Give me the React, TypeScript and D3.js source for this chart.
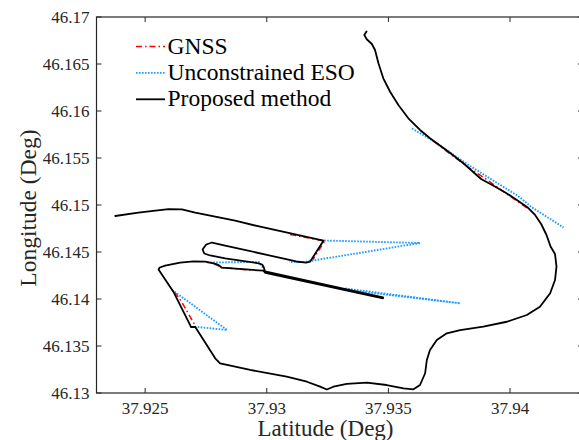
import React from "react";
import * as d3 from "d3";

// ---------- data (lat, lon) ----------
const proposedLat = [
  37.92377, 37.92472, 37.92596, 37.92651, 37.92706, 37.9287, 37.92973, 37.93233, 37.93178, 37.93162,
  37.93121, 37.92829, 37.92775, 37.92751, 37.92736, 37.92743, 37.92767, 37.92829, 37.92966, 37.92981,
  37.92987, 37.92993, 37.93478, 37.93478, 37.92994, 37.92986, 37.92815, 37.92808, 37.92801, 37.92781,
  37.92747, 37.92699, 37.92644, 37.92582, 37.9256, 37.92555, 37.92616, 37.92685, 37.92688, 37.92706,
  37.92788, 37.92808, 37.92932, 37.93082, 37.93165, 37.93219, 37.93247, 37.93274, 37.93329, 37.93411,
  37.93493, 37.93562, 37.93603, 37.9363, 37.93651, 37.93658, 37.93671, 37.93699, 37.9374, 37.93795,
  37.9389, 37.93987, 37.94069, 37.94123, 37.94165, 37.94185, 37.94191, 37.94185, 37.94167, 37.9415,
  37.94128, 37.94103, 37.9407, 37.94025, 37.93984, 37.93934, 37.93881, 37.93844, 37.93807, 37.93754,
  37.93712, 37.93671, 37.9363, 37.93582, 37.93541, 37.93507, 37.93479, 37.93459, 37.93445, 37.93432,
  37.93411, 37.93401, 37.9341,
];
const proposedLon = [
  46.14883, 46.14918, 46.14957, 46.14954, 46.14918, 46.14833, 46.14769, 46.1462, 46.14397, 46.14388,
  46.14399, 46.14569, 46.14601, 46.1458, 46.14527, 46.14484, 46.14463, 46.14433, 46.1438, 46.14367,
  46.1434, 46.14293, 46.14018, 46.14007, 46.14278, 46.14301, 46.14333, 46.14348, 46.14362, 46.1438,
  46.14397, 46.14401, 46.14386, 46.14356, 46.14335, 46.14314, 46.14078, 46.13723, 46.13702, 46.13702,
  46.13369, 46.13316, 46.13245, 46.13173, 46.1312, 46.13067, 46.13037, 46.13067, 46.13096, 46.1311,
  46.13085, 46.1305, 46.13039, 46.13085, 46.1321, 46.13351, 46.13457, 46.13564, 46.13635, 46.1367,
  46.13705, 46.13758, 46.1383, 46.13918, 46.14061, 46.14202, 46.14344, 46.14479, 46.14556, 46.14681,
  46.14798, 46.14894, 46.14979, 46.15058, 46.15128, 46.15202, 46.15277, 46.15362, 46.15447, 46.15553,
  46.15633, 46.1571, 46.15798, 46.15922, 46.16064, 46.16205, 46.16348, 46.16507, 46.16649, 46.16713,
  46.16763, 46.16808, 46.16846,
];

// GNSS visible segments
const gnssLat = [
  [37.93688, 37.93762, 37.93836, 37.9391, 37.93984, 37.9407],
  [37.93096, 37.93238, 37.9319],
  [37.92784, 37.92817, 37.92932],
  [37.92621, 37.92648, 37.92708],
];
const gnssLon = [
  [46.15675, 46.15526, 46.15388, 46.15261, 46.15122, 46.14968],
  [46.14686, 46.14617, 46.1442],
  [46.14372, 46.14335, 46.14306],
  [46.14074, 46.13979, 46.13707],
];

// Unconstrained ESO visible segments
const esoLat = [
  [37.93597, 37.93671, 37.93754, 37.93836, 37.93947, 37.94033, 37.94091, 37.9422],
  [37.93236, 37.9363, 37.93154, 37.93092],
  [37.93322, 37.93795, 37.93322],
  [37.92755, 37.92967, 37.92985],
  [37.92611, 37.92837, 37.92706],
];
const esoLon = [
  [46.15814, 46.15702, 46.15558, 46.15415, 46.15234, 46.15096, 46.14973, 46.14761],
  [46.14622, 46.14596, 46.14394, 46.14394],
  [46.14112, 46.13954, 46.14098],
  [46.14388, 46.14394, 46.1433],
  [46.14096, 46.1367, 46.13705],
];

const xTicks = [37.925, 37.93, 37.935, 37.94];
const yTicks = [46.13, 46.135, 46.14, 46.145, 46.15, 46.155, 46.16, 46.165, 46.17];
const xDomain = [37.923, 37.943];
const yDomain = [46.13, 46.17];

const legendLabels = ["GNSS", "Unconstrained ESO", "Proposed method"];

const W = 579;
const H = 440;
const L = 96.5;
const R = 583;
const T = 17;
const B = 393;
const FONT = "'Liberation Serif', 'Times New Roman', serif";
const AX = "#262626";
const RED = "#ff0000";
const BLUE = "#1e9bff";

export default function App() {
  const x = d3.scaleLinear().domain(xDomain).range([L, R]);
  const y = d3.scaleLinear().domain(yDomain).range([B, T]);
  const line = d3
    .line<[number, number]>()
    .x((d) => x(d[0]))
    .y((d) => y(d[1]));

  const zip = (a: number[], b: number[]) => a.map((v, i) => [v, b[i]] as [number, number]);

  const fmt = (v: number) => String(+v.toFixed(3));
  const tick = 5;

  const legendStyles = [
    { stroke: RED, dash: "6 3 1.5 3", width: 1.4 },
    { stroke: BLUE, dash: "1.6 1.4", width: 1.8 },
    { stroke: "#000", dash: undefined, width: 1.8 },
  ];

  return (
    <svg
      width={W}
      height={H}
      style={{ position: "absolute", left: 0, top: 0, background: "#fff" }}
      fontFamily={FONT}
    >
      <rect x={0} y={0} width={W} height={H} fill="#fff" />
      <defs>
        <clipPath id="plotclip">
          <rect x={L} y={T} width={R - L} height={B - T} />
        </clipPath>
      </defs>
      <g clipPath="url(#plotclip)">
        {gnssLat.map((seg, i) => (
          <path
            key={"g" + i}
            d={line(zip(seg, gnssLon[i])) || ""}
            fill="none"
            stroke={RED}
            strokeWidth={1.5}
            strokeDasharray="6 3 1.5 3"
          />
        ))}
        {esoLat.map((seg, i) => (
          <path
            key={"e" + i}
            d={line(zip(seg, esoLon[i])) || ""}
            fill="none"
            stroke={BLUE}
            strokeWidth={1.9}
            strokeDasharray="1.6 1.4"
          />
        ))}
        <path
          d={line(zip(proposedLat, proposedLon)) || ""}
          fill="none"
          stroke="#000"
          strokeWidth={1.8}
          strokeLinejoin="round"
          strokeLinecap="round"
        />
      </g>

      {/* axes box */}
      <rect x={L} y={T} width={R - L} height={B - T} fill="none" stroke={AX} strokeWidth={1.2} />
      {xTicks.map((t) => (
        <g key={"xt" + t}>
          <line x1={x(t)} x2={x(t)} y1={B} y2={B - tick} stroke={AX} strokeWidth={1} />
          <line x1={x(t)} x2={x(t)} y1={T} y2={T + tick} stroke={AX} strokeWidth={1} />
          <text x={x(t)} y={B + 21} textAnchor="middle" fontSize={17} fill={AX}>
            {fmt(t)}
          </text>
        </g>
      ))}
      {yTicks.map((t) => (
        <g key={"yt" + t}>
          <line x1={L} x2={L + tick} y1={y(t)} y2={y(t)} stroke={AX} strokeWidth={1} />
          <line x1={R} x2={R - tick} y1={y(t)} y2={y(t)} stroke={AX} strokeWidth={1} />
          <text x={L - 7} y={y(t) + 5.5} textAnchor="end" fontSize={17} fill={AX}>
            {fmt(t)}
          </text>
        </g>
      ))}
      <text x={325.5} y={436} textAnchor="middle" fontSize={23} fill={AX}>
        Latitude (Deg)
      </text>
      <text
        transform={`translate(36, 208) rotate(-90)`}
        textAnchor="middle"
        fontSize={23.5}
        fill={AX}
      >
        Longitude (Deg)
      </text>

      {/* legend */}
      {legendLabels.map((lab, i) => {
        const ly = 46.5 + i * 26.4;
        const s = legendStyles[i];
        return (
          <g key={lab}>
            <line
              x1={136}
              x2={165}
              y1={ly}
              y2={ly}
              stroke={s.stroke}
              strokeWidth={s.width}
              strokeDasharray={s.dash}
            />
            <text x={167.5} y={ly + 7} fontSize={23.5} fill="#000">
              {lab}
            </text>
          </g>
        );
      })}
    </svg>
  );
}
